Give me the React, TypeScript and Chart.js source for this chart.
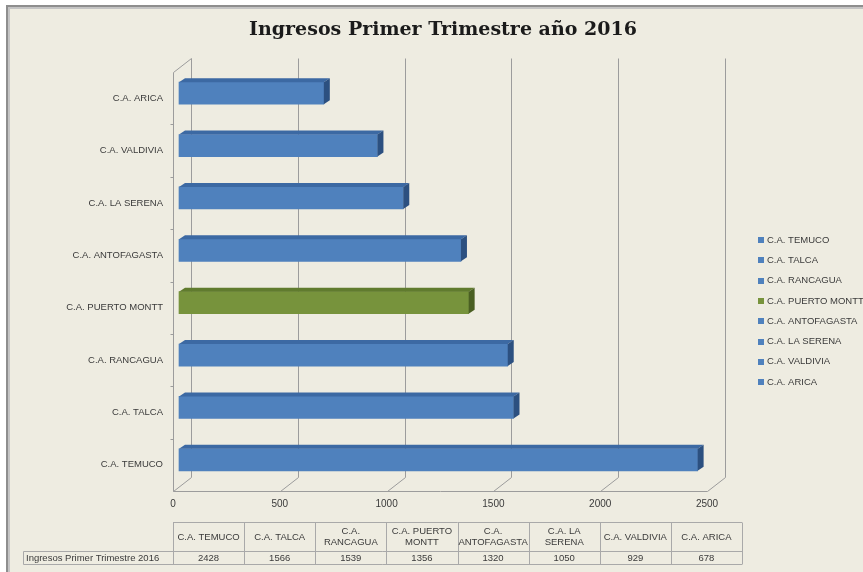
import React, { useEffect, useRef } from "react";
import { Chart, registerables } from "chart.js";

Chart.register(...registerables);

const chartTitle = "Ingresos Primer Trimestre año 2016";
const seriesName = "Ingresos Primer Trimestre 2016";
const categories = [
  "C.A. TEMUCO",
  "C.A. TALCA",
  "C.A. RANCAGUA",
  "C.A. PUERTO MONTT",
  "C.A. ANTOFAGASTA",
  "C.A. LA SERENA",
  "C.A. VALDIVIA",
  "C.A. ARICA",
];
const values = [2428, 1566, 1539, 1356, 1320, 1050, 929, 678];
const xTicks = [0, 500, 1000, 1500, 2000, 2500];
const highlighted = "C.A. PUERTO MONTT";

const BLUE = { front: "#4f81bd", top: "#3c69a3", side: "#2c5080" };
const GREEN = { front: "#77933c", top: "#607b2e", side: "#4a5f22" };
const palette = (c: string) => (c === highlighted ? GREEN : BLUE);

const BACK = { dx: 18, dy: -14 };
const SHIFT = { dx: 6, dy: -5 };
const DEPTH = { dx: 6, dy: -4 };

const SANS = '"Liberation Sans", Arial, sans-serif';
const TEXT = "#3a3a3a";

function wrap(ctx: CanvasRenderingContext2D, text: string, maxW: number) {
  const words = text.split(" ");
  const lines: string[] = [];
  let cur = "";
  for (const w of words) {
    const t = cur ? cur + " " + w : w;
    if (cur && ctx.measureText(t).width > maxW) {
      lines.push(cur);
      cur = w;
    } else cur = t;
  }
  if (cur) lines.push(cur);
  return lines;
}

const chart3d = {
  id: "chart3d",
  beforeDraw(chart: any) {
    const { ctx, width, height, chartArea: a, scales } = chart;
    ctx.save();
    ctx.fillStyle = "#ffffff";
    ctx.fillRect(0, 0, width, height);
    ctx.fillStyle = "#8e8e8e";
    ctx.fillRect(6, 5, width, height);
    ctx.fillStyle = "#c4c4c4";
    ctx.fillRect(8, 7, width, height);
    ctx.fillStyle = "#EEECE1";
    ctx.fillRect(10, 9, width, height);

    ctx.fillStyle = "#1b1b1b";
    ctx.font = 'bold 19px "DejaVu Serif", serif';
    ctx.textAlign = "center";
    ctx.textBaseline = "middle";
    ctx.fillText(chartTitle, 443, 30);

    const xs = scales.x;
    ctx.lineWidth = 1;
    ctx.strokeStyle = "#9c9c9c";
    ctx.beginPath();
    const bottom = Math.round(a.bottom) + 0.5;
    const top = Math.round(a.top) + 0.5;
    for (const v of xTicks) {
      const px = Math.round(xs.getPixelForValue(v)) + 0.5;
      ctx.moveTo(px + BACK.dx, top + BACK.dy);
      ctx.lineTo(px + BACK.dx, bottom + BACK.dy);
      ctx.lineTo(px, bottom);
    }
    const l = Math.round(a.left) + 0.5;
    ctx.moveTo(l + BACK.dx, top + BACK.dy);
    ctx.lineTo(l, top);
    ctx.lineTo(l, bottom);
    ctx.lineTo(Math.round(a.right) + 0.5, bottom);
    const n = categories.length;
    for (let k = 1; k < n; k++) {
      const y = Math.round(a.top + (k * a.height) / n) + 0.5;
      ctx.moveTo(l - 3, y);
      ctx.lineTo(l, y);
    }
    ctx.stroke();
    ctx.restore();
  },
  beforeDatasetsDraw(chart: any) {
    chart.ctx.save();
    chart.ctx.translate(SHIFT.dx, SHIFT.dy);
  },
  afterDatasetsDraw(chart: any) {
    const ctx = chart.ctx;
    const meta = chart.getDatasetMeta(0);
    meta.data.forEach((el: any, i: number) => {
      const { x, y, base, height } = el.getProps(["x", "y", "base", "height"], true);
      const yt = y - height / 2;
      const yb = y + height / 2;
      const col = palette(categories[i]);
      ctx.fillStyle = col.top;
      ctx.beginPath();
      ctx.moveTo(base, yt);
      ctx.lineTo(base + DEPTH.dx, yt + DEPTH.dy);
      ctx.lineTo(x + DEPTH.dx, yt + DEPTH.dy);
      ctx.lineTo(x, yt);
      ctx.closePath();
      ctx.fill();
      ctx.fillStyle = col.side;
      ctx.beginPath();
      ctx.moveTo(x, yt);
      ctx.lineTo(x + DEPTH.dx, yt + DEPTH.dy);
      ctx.lineTo(x + DEPTH.dx, yb + DEPTH.dy);
      ctx.lineTo(x, yb);
      ctx.closePath();
      ctx.fill();
    });
    ctx.restore();
  },
  afterDraw(chart: any) {
    const { ctx, chartArea: a } = chart;
    ctx.save();
    // legend
    ctx.font = "9.5px " + SANS;
    ctx.textAlign = "left";
    ctx.textBaseline = "middle";
    categories.forEach((c, i) => {
      const y = 240 + i * 20.3;
      ctx.fillStyle = palette(c).front;
      ctx.fillRect(758, Math.round(y) - 3, 6, 6);
      ctx.fillStyle = TEXT;
      ctx.fillText(c, 767, y);
    });

    // data table
    const n = categories.length;
    const left = a.left;
    const right = 742;
    const colW = (right - left) / n;
    const top = 522.5;
    const mid = 551.5;
    const bot = 564.5;
    const labelLeft = 23.5;
    ctx.strokeStyle = "#a9a9a9";
    ctx.lineWidth = 1;
    ctx.beginPath();
    ctx.moveTo(left, top);
    ctx.lineTo(right, top);
    ctx.moveTo(labelLeft, mid);
    ctx.lineTo(right, mid);
    ctx.moveTo(labelLeft, bot);
    ctx.lineTo(right, bot);
    ctx.moveTo(labelLeft, mid);
    ctx.lineTo(labelLeft, bot);
    for (let i = 0; i <= n; i++) {
      const x = Math.round(left + i * colW) + 0.5;
      ctx.moveTo(x, top);
      ctx.lineTo(x, bot);
    }
    ctx.stroke();

    ctx.fillStyle = TEXT;
    ctx.textAlign = "center";
    categories.forEach((c, i) => {
      const cx = left + (i + 0.5) * colW;
      const lines = wrap(ctx, c, colW - 3);
      const lh = 11.5;
      const y0 = (top + mid) / 2 - ((lines.length - 1) * lh) / 2;
      lines.forEach((ln, k) => ctx.fillText(ln, cx, y0 + k * lh));
      ctx.fillText(String(values[i]), cx, (mid + bot) / 2);
    });
    ctx.textAlign = "left";
    ctx.fillText(seriesName, 26, (mid + bot) / 2);
    ctx.restore();
  },
};

export default function App() {
  const ref = useRef<HTMLCanvasElement | null>(null);
  useEffect(() => {
    if (!ref.current) return;
    const chart = new Chart(ref.current, {
      type: "bar",
      data: {
        labels: categories,
        datasets: [
          {
            label: seriesName,
            data: values,
            backgroundColor: categories.map((c) => palette(c).front),
            borderWidth: 0,
            barThickness: 22,
            clip: false as any,
          },
        ],
      },
      options: {
        indexAxis: "y",
        responsive: false,
        animation: false,
        devicePixelRatio: 1,
        layout: { padding: { left: 0, right: 156, top: 72, bottom: 51 } },
        plugins: {
          legend: { display: false },
          title: { display: false },
          tooltip: { enabled: false },
        },
        scales: {
          x: {
            type: "linear",
            min: xTicks[0],
            max: xTicks[xTicks.length - 1],
            afterBuildTicks: (s: any) => {
              s.ticks = xTicks.map((v) => ({ value: v }));
            },
            afterFit: (s: any) => {
              s.height = 30;
            },
            grid: { display: false, drawTicks: false },
            border: { display: false },
            ticks: {
              font: { family: SANS, size: 10 },
              color: TEXT,
              padding: 7,
              maxRotation: 0,
              callback: (v: any) => String(v),
            },
          },
          y: {
            reverse: true,
            afterFit: (s: any) => {
              s.width = 173;
            },
            grid: { display: false, drawTicks: false },
            border: { display: false },
            ticks: {
              font: { family: SANS, size: 9.5 },
              color: TEXT,
              padding: 10,
            },
          },
        },
      } as any,
      plugins: [chart3d],
    });
    return () => chart.destroy();
  }, []);
  return (
    <div style={{ position: "fixed", left: 0, top: 0, width: 863, height: 572, background: "#fff" }}>
      <canvas ref={ref} width={863} height={572} style={{ display: "block", width: 863, height: 572 }} />
    </div>
  );
}
